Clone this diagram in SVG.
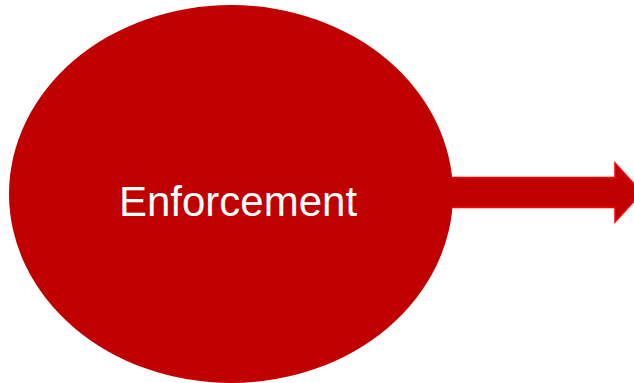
<svg xmlns="http://www.w3.org/2000/svg" width="634" height="383" viewBox="0 0 634 383">
<style>
.shape{fill:#C00000}
.arrow{fill:#C00000;stroke:#FF0000;stroke-width:1.5}
.label{font-family:"Liberation Sans",Arial,sans-serif;font-size:42px;fill:#FFFFFF}
</style>
<rect width="634" height="383" fill="#FFFFFF"/>
<g id="connectors">
<polygon class="arrow" points="450,177.5 615,177.5 615,163 642,192.5 615,222 615,207.5 450,207.5"/>
</g>
<g id="enforcement">
<ellipse class="shape" cx="231" cy="194" rx="222" ry="189"/>
<text class="label" x="238" y="216" text-anchor="middle">Enforcement</text>
</g>
</svg>
